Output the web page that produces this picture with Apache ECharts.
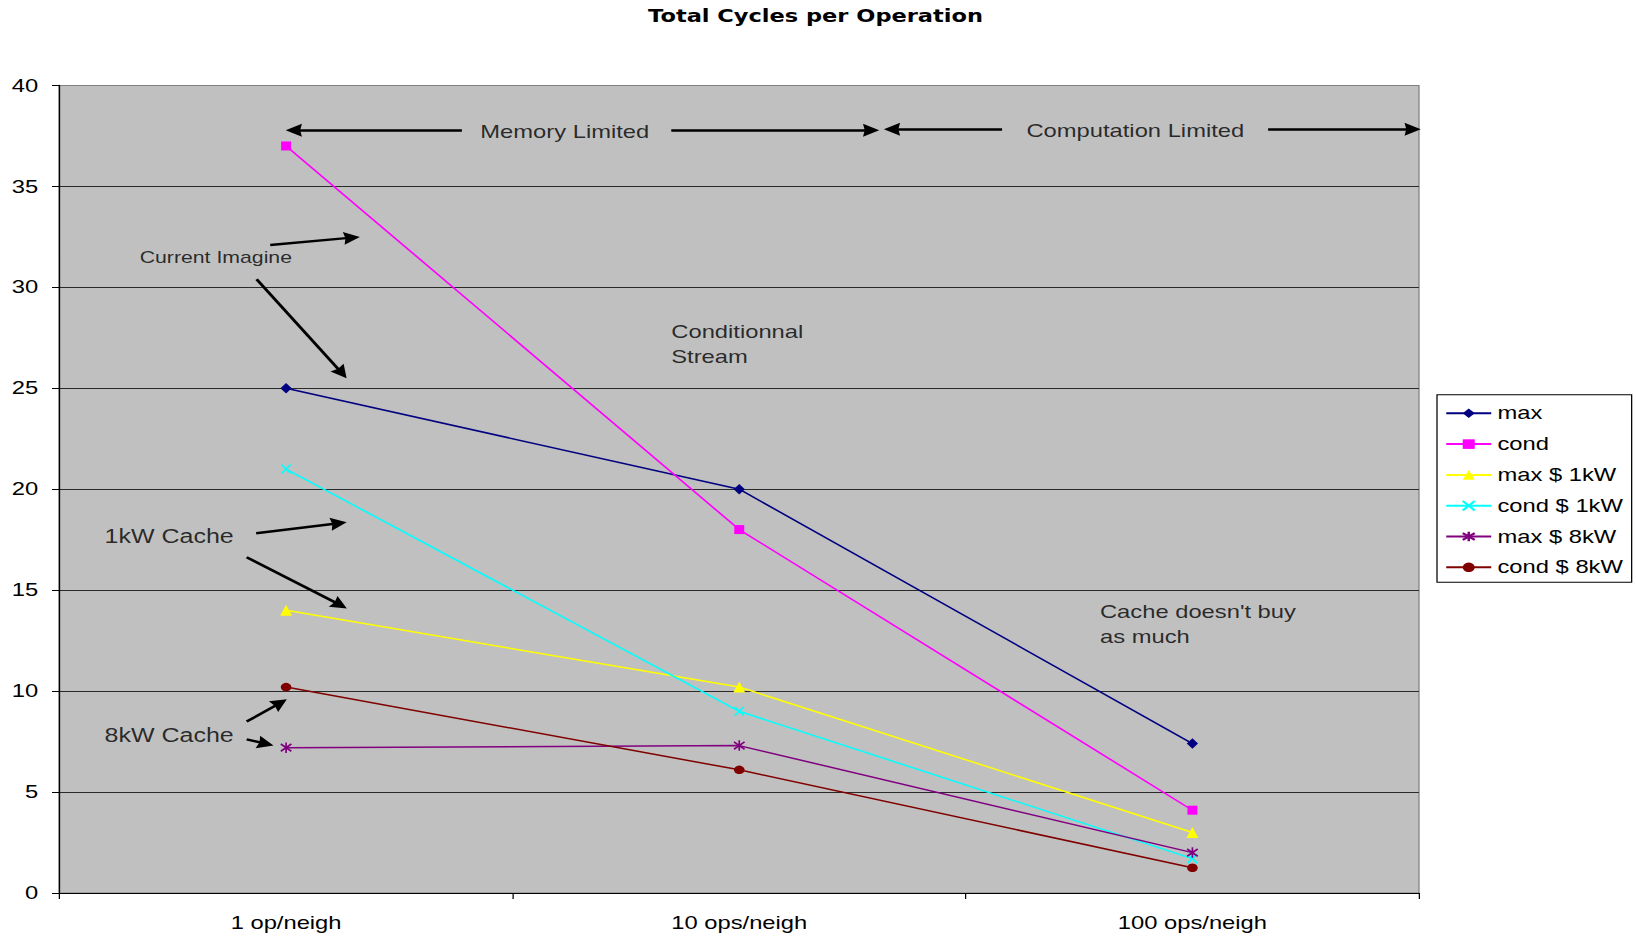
<!DOCTYPE html>
<html>
<head>
<meta charset="utf-8">
<title>Total Cycles per Operation</title>
<script src="https://cdn.jsdelivr.net/npm/echarts@6/dist/echarts.min.js"></script>
<style>
  html, body { margin: 0; padding: 0; background: #ffffff; overflow: hidden; }
  /* the chart is laid out on a narrower canvas and widened, giving the wide letterforms of the original sheet */
  #chart { width: 1309px; height: 937px; transform: scaleX(1.25); transform-origin: 0 0; }
</style>
</head>
<body>
<div id="chart"></div>
<script>
// ---- data ----
const categories = ['1 op/neigh', '10 ops/neigh', '100 ops/neigh'];
const seriesNames = ['max', 'cond', 'max $ 1kW', 'cond $ 1kW', 'max $ 8kW', 'cond $ 8kW'];
const maxValues     = [25, 20, 7.4];
const condValues    = [37, 18, 4.1];
const max1kWValues  = [14, 10.2, 3.0];
const cond1kWValues = [21, 9.0, 1.7];
const max8kWValues  = [7.2, 7.3, 2.0];
const cond8kWValues = [10.2, 6.1, 1.25];
const yMin = 0, yMax = 40, yStep = 5;

// ---- annotations (placed on a hidden 0..3 x scale that spans the three category bands) ----
const notes = [
  { text: 'Memory Limited', x: 1.115, y: 37.7, size: 19, align: 'center' },
  { text: 'Computation Limited', x: 2.374, y: 37.75, size: 19, align: 'center' },
  { text: 'Current Imagine', x: 0.345, y: 31.5, size: 17, align: 'center' },
  { text: 'Conditionnal\nStream', x: 1.350, y: 27.2, size: 19, align: 'left' },
  { text: '1kW Cache', x: 0.242, y: 17.67, size: 20, align: 'center' },
  { text: '8kW Cache', x: 0.242, y: 7.83, size: 20, align: 'center' },
  { text: "Cache doesn't buy\nas much", x: 2.296, y: 13.3, size: 19, align: 'left' }
];
// each arrow: tail point, then the point the arrowhead is centred on
const arrows = [
  [[0.888, 37.78], [0.517, 37.78]],
  [[1.350, 37.78], [1.791, 37.78]],
  [[2.080, 37.83], [1.837, 37.83]],
  [[2.667, 37.83], [2.986, 37.83]],
  [[0.465, 32.1], [0.645, 32.46]],
  [[0.435, 30.4], [0.623, 25.76]],
  [[0.434, 17.82], [0.616, 18.31]],
  [[0.413, 16.63], [0.619, 14.27]],
  [[0.413, 8.49], [0.487, 9.41]],
  [[0.413, 7.61], [0.455, 7.39]]
];

const FONT = "'Liberation Sans', Arial, sans-serif";
const SYM_CROSS = 'path://M0,0L10,10M10,0L0,10';
const SYM_STAR = 'path://M5,0L5,10M0,1.5L10,8.5M10,1.5L0,8.5';
const SYM_HEAD = 'path://M5,0L10,14L5,12.5L0,14Z';

function lineSeries(name, values, color, symbol, size, stroke) {
  return {
    name: name,
    type: 'line',
    data: values,
    symbol: symbol,
    symbolSize: size,
    showAllSymbol: true,
    lineStyle: { color: color, width: 1.5 },
    itemStyle: { color: color, borderColor: color, borderWidth: stroke },
    emphasis: { disabled: true },
    z: 3
  };
}

const chart = echarts.init(document.getElementById('chart'), null, { renderer: 'svg' });

const splitColors = [];
for (let v = yMin; v <= yMax; v += yStep) splitColors.push(v === yMax ? '#808080' : '#2a2a2a');

chart.setOption({
  animation: false,
  backgroundColor: '#ffffff',
  textStyle: { fontFamily: FONT },
  title: {
    text: 'Total Cycles per Operation',
    left: 647.4,
    top: 2,
    textAlign: 'center',
    textStyle: { fontFamily: "'DejaVu Sans', sans-serif", fontWeight: 'bold', fontSize: 18, lineHeight: 18, color: '#000' }
  },
  legend: {
    orient: 'vertical',
    left: 1149.6,
    top: 394.7,
    padding: [8.6, 7, 5, 6.4],
    itemGap: 10.8,
    itemWidth: 36,
    itemHeight: 12,
    align: 'left',
    backgroundColor: '#ffffff',
    borderColor: '#000000',
    borderWidth: 1,
    borderRadius: 0,
    selectedMode: false,
    textStyle: { fontFamily: FONT, fontSize: 19, lineHeight: 20, color: '#000' },
    data: seriesNames
  },
  grid: {
    left: 47.6,
    right: 173.8,
    top: 85.4,
    bottom: 44,
    show: true,
    backgroundColor: '#c0c0c0',
    borderColor: '#808080',
    borderWidth: 1
  },
  xAxis: [
    {
      type: 'category',
      data: categories,
      boundaryGap: true,
      axisLine: { lineStyle: { color: '#000', width: 1.2 } },
      axisTick: { show: true, length: 6, interval: 0, lineStyle: { color: '#000' } },
      axisLabel: { fontFamily: FONT, fontSize: 19, color: '#000', margin: 20 },
      splitLine: { show: false }
    },
    {
      type: 'value',
      min: 0,
      max: 3,
      show: false
    }
  ],
  yAxis: {
    type: 'value',
    min: yMin,
    max: yMax,
    interval: yStep,
    axisLine: { show: true, lineStyle: { color: '#000', width: 1.2 } },
    axisTick: { show: true, length: 6, lineStyle: { color: '#000' } },
    axisLabel: { fontFamily: FONT, fontSize: 19, color: '#000', margin: 17 },
    splitLine: { show: true, lineStyle: { color: splitColors, width: 1 } }
  },
  series: [
    lineSeries('max', maxValues, '#000080', 'diamond', [9, 10.5], 0),
    lineSeries('cond', condValues, '#ff00ff', 'rect', [8, 9], 0),
    lineSeries('max $ 1kW', max1kWValues, '#ffff00', 'triangle', [9.5, 11], 0),
    lineSeries('cond $ 1kW', cond1kWValues, '#00ffff', SYM_CROSS, [7.5, 9], 1.5),
    lineSeries('max $ 8kW', max8kWValues, '#800080', SYM_STAR, [8.5, 10.5], 1.5),
    lineSeries('cond $ 8kW', cond8kWValues, '#800000', 'circle', [8.5, 8.5], 0),
    {
      name: 'notes',
      type: 'scatter',
      xAxisIndex: 1,
      yAxisIndex: 0,
      symbolSize: 0,
      silent: true,
      clip: false,
      z: 4,
      data: notes.map(n => ({
        value: [n.x, n.y],
        label: {
          show: true,
          position: 'inside',
          formatter: n.text,
          align: n.align,
          verticalAlign: 'middle',
          fontFamily: FONT,
          fontSize: n.size,
          lineHeight: 25,
          color: '#000'
        }
      })),
      markLine: {
        silent: true,
        symbol: ['none', SYM_HEAD],
        symbolSize: 13,
        label: { show: false },
        lineStyle: { color: '#000', width: 2.5, type: 'solid' },
        emphasis: { disabled: true },
        data: arrows.map(a => [{ coord: a[0] }, { coord: a[1] }])
      }
    }
  ]
});
</script>
</body>
</html>
